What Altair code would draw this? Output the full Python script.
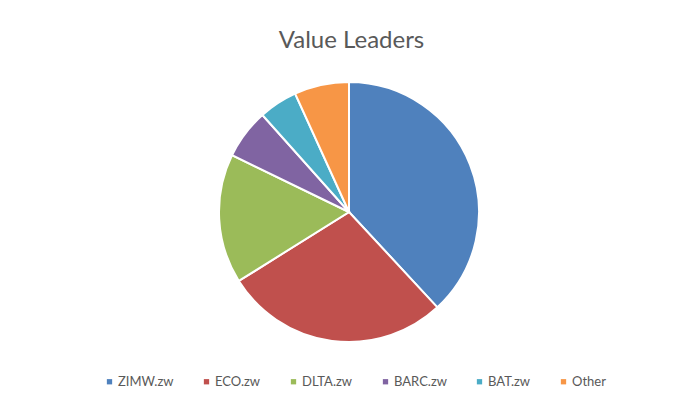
import altair as alt
import pandas as pd

tickers = ["ZIMW.zw", "ECO.zw", "DLTA.zw", "BARC.zw", "BAT.zw", "Other"]
shares = [38.1, 28.0, 16.1, 6.2, 4.8, 6.8]
order_idx = [0, 1, 2, 3, 4, 5]
colors = ["#4F81BD", "#C0504D", "#9BBB59", "#8064A2", "#4BACC6", "#F79646"]

df = pd.DataFrame({"ticker": tickers, "share": shares, "idx": order_idx})

chart = (
    alt.Chart(df, title=alt.Title("Value Leaders", fontSize=24, font="Lato",
                                  fontWeight="normal", color="#595959",
                                  anchor="middle", offset=5, dx=5))
    .mark_arc(radius=130, stroke="white", strokeWidth=2)
    .encode(
        theta=alt.Theta("share:Q", stack=True),
        order=alt.Order("idx:Q"),
        color=alt.Color(
            "ticker:N",
            scale=alt.Scale(domain=tickers, range=colors),
            sort=tickers,
            legend=alt.Legend(
                title=None, orient="none", direction="horizontal",
                legendX=95, legendY=317, symbolType="square", symbolSize=28,
                symbolStrokeWidth=0, labelFont="Lato", labelFontSize=13,
                labelColor="#595959", columnPadding=26, labelOffset=2,
            ),
        ),
        x=alt.value(341),
        y=alt.value(154),
    )
    .properties(width=677, height=343, autosize="none",
                padding={"top": 50, "left": 0, "right": 0, "bottom": 0})
    .configure_view(stroke=None)
)

chart.save("out.html", embed_options={"renderer": "svg", "actions": False})
